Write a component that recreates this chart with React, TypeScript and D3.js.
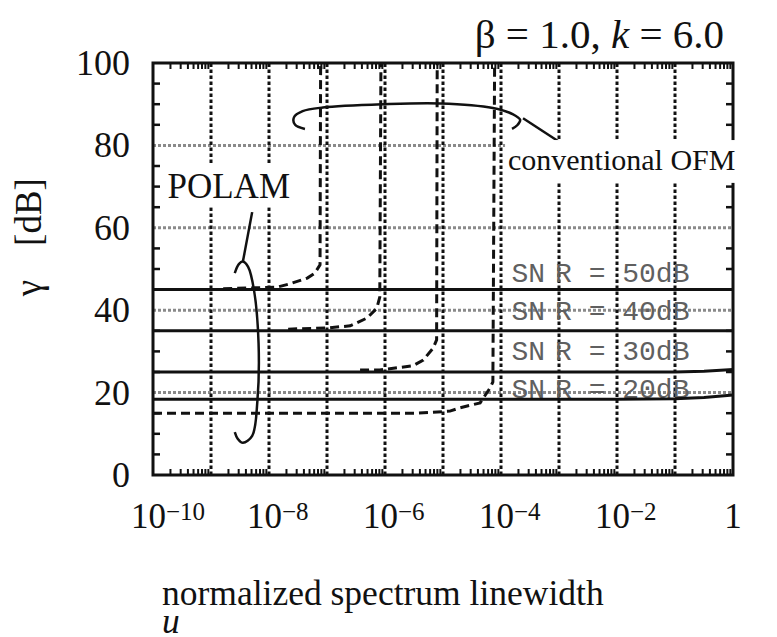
import React from 'react';
import * as d3 from 'd3';

const W = 777;
const H = 637;

// axis ticks
const xLabelExps = [-10, -8, -6, -4, -2];
const xGridExps = [-9, -8, -7, -6, -5, -4, -3, -2, -1];
const yTicks = [0, 20, 40, 60, 80, 100];
const yGrid = [20, 40, 60, 80];
const yMinor = [5, 10, 15, 25, 30, 35, 45, 50, 55, 65, 70, 75, 85, 90, 95];

// conventional OFM (solid), x as log10(u)
const ofmLogU = [-10, -2, -1, -0.5, 0];
const ofm50 = [45, 45, 45, 45, 45];
const ofm40 = [35, 35, 35, 35, 35];
const ofm30 = [25, 25, 25, 25.2, 25.6];
const ofm20 = [18.4, 18.4, 18.5, 18.8, 19.4];

// POLAM (dashed)
const polam50LogU = [-8.79, -7.86, -7.64, -7.34, -7.21, -7.12, -7.11];
const polam50 = [45.2, 45.6, 46.4, 47.8, 49.0, 51.0, 100];
const polam40LogU = [-7.67, -7.0, -6.6, -6.31, -6.14, -6.09, -6.07];
const polam40 = [35.4, 35.7, 36.2, 38.1, 40.5, 43.2, 100];
const polam30LogU = [-6.43, -6.09, -5.52, -5.34, -5.17, -5.11, -5.1];
const polam30 = [25.5, 25.5, 26.5, 27.9, 30.8, 32.8, 100];
const polam20LogU = [-10, -5.45, -4.88, -4.71, -4.36, -4.19, -4.14, -4.11];
const polam20 = [15.0, 15.0, 15.5, 16.3, 17.5, 21.1, 22.6, 100];

// SNR labels
const snrNames = ['50dB', '40dB', '30dB', '20dB'];
const snrLabelGamma = [46.8, 37.6, 27.9, 18.7];

// annotation brackets (log10 u, gamma)
const polamBracket: [number, number][] = [
  [-8.59, 49.0], [-8.52, 51.2], [-8.45, 51.8], [-8.36, 50.5], [-8.26, 45.0],
  [-8.18, 32.0], [-8.2, 18.0], [-8.29, 9.5], [-8.45, 7.8], [-8.54, 8.8], [-8.59, 10.4],
];
const polamLeader: [number, number][] = [[-8.45, 51.8], [-8.29, 63.8]];
const ofmBracket: [number, number][] = [
  [-7.38, 84.0], [-7.55, 85.0], [-7.57, 86.8], [-7.42, 88.3], [-7.07, 89.2],
  [-6.03, 90.0], [-5.05, 90.2], [-4.14, 89.1], [-3.8, 87.6], [-3.67, 86.2],
  [-3.72, 84.9], [-3.81, 84.0],
];
const ofmLeader: [number, number][] = [[-3.62, 86.6], [-2.86, 79.6]];

const SERIF = "'Liberation Serif', 'Times New Roman', serif";
const MONO = "'Liberation Mono', 'Courier New', monospace";

export default function App() {
  const x = d3.scaleLog().domain([1e-10, 1]).range([153, 733]);
  const y = d3.scaleLinear().domain([0, 100]).range([475, 63]);
  const lx = (l: number) => x(Math.pow(10, l));
  const line = d3.line<[number, number]>().x(d => lx(d[0])).y(d => y(d[1]));
  const smooth = d3
    .line<[number, number]>()
    .x(d => lx(d[0]))
    .y(d => y(d[1]))
    .curve(d3.curveCatmullRom.alpha(0.5));

  const zip = (a: number[], b: number[]) => a.map((v, i) => [v, b[i]] as [number, number]);
  const ofmSeries = [ofm50, ofm40, ofm30, ofm20].map(g => zip(ofmLogU, g));
  const polamSeries = [
    zip(polam50LogU, polam50),
    zip(polam40LogU, polam40),
    zip(polam30LogU, polam30),
    zip(polam20LogU, polam20),
  ];

  const [x0, x1] = x.range();
  const [y0, y1] = y.range();

  const minorX: number[] = [];
  for (let k = -10; k < 0; k++) for (let m = 2; m <= 9; m++) minorX.push(m * Math.pow(10, k));

  return (
    <svg width={W} height={H} style={{ position: 'absolute', left: 0, top: 0, background: '#fff' }}>
      <rect x={0} y={0} width={W} height={H} fill="#fff" />
      {/* grid */}
      {yGrid.map(v => (
        <line key={'hg' + v} x1={x0} x2={x1} y1={y(v)} y2={y(v)} stroke="#8a8a8a" strokeWidth={3} strokeDasharray="3,2" />
      ))}
      {xGridExps.map(e => (
        <line key={'vg' + e} x1={lx(e)} x2={lx(e)} y1={y0} y2={y1} stroke="#111" strokeWidth={3} strokeDasharray="3.5,2.5" />
      ))}

      {/* POLAM label box */}
      <rect x={lx(-9.97)} y={y(75.7)} width={lx(-7.6) - lx(-9.97)} height={y(65.0) - y(75.7)} fill="#fff" />

      {/* SNR labels */}
      {snrNames.map((n, i) => (
        <text key={n} x={lx(-3.82)} y={y(snrLabelGamma[i])} fontFamily={MONO} fontSize={28} fill="#606060">
          SN<tspan dx={10}>R = {n}</tspan>
        </text>
      ))}

      {/* conventional OFM solid lines */}
      {ofmSeries.map((s, i) => (
        <path key={'ofm' + i} d={line(s) || ''} fill="none" stroke="#111" strokeWidth={3} />
      ))}
      {/* POLAM dashed curves */}
      {polamSeries.map((s, i) => (
        <path key={'pol' + i} d={line(s) || ''} fill="none" stroke="#111" strokeWidth={3} strokeDasharray="9,5" />
      ))}

      {/* brackets */}
      <path d={smooth(polamBracket) || ''} fill="none" stroke="#111" strokeWidth={2.5} />
      <path d={line(polamLeader) || ''} fill="none" stroke="#111" strokeWidth={2.5} />
      <path d={smooth(ofmBracket) || ''} fill="none" stroke="#111" strokeWidth={2.5} />
      <path d={line(ofmLeader) || ''} fill="none" stroke="#111" strokeWidth={2.5} />

      {/* frame and ticks */}
      <rect x={x0} y={y1} width={x1 - x0} height={y0 - y1} fill="none" stroke="#111" strokeWidth={3} />
      {minorX.map((u, i) => (
        <g key={'mx' + i}>
          <line x1={x(u)} x2={x(u)} y1={y0} y2={y0 - 6} stroke="#111" strokeWidth={2} />
          <line x1={x(u)} x2={x(u)} y1={y1} y2={y1 + 6} stroke="#111" strokeWidth={2} />
        </g>
      ))}
      {yMinor.map(v => (
        <g key={'my' + v}>
          <line x1={x0} x2={x0 + 7} y1={y(v)} y2={y(v)} stroke="#111" strokeWidth={2.5} />
          <line x1={x1} x2={x1 - 7} y1={y(v)} y2={y(v)} stroke="#111" strokeWidth={2.5} />
        </g>
      ))}

      {/* conventional OFM label box + text (over frame) */}
      <rect x={lx(-3.93)} y={y(81.3)} width={W - lx(-3.93)} height={y(70.9) - y(81.3)} fill="#fff" />
      <text x={lx(-3.88)} y={y(74.0)} fontFamily={SERIF} fontSize={30} fill="#111">conventional OFM</text>
      <text x={lx(-9.75)} y={y(67.2)} fontFamily={SERIF} fontSize={35} fill="#111">POLAM</text>

      {/* y tick labels */}
      {yTicks.map(v => (
        <text key={'yl' + v} x={130} y={y(v) + 12} textAnchor="end" fontFamily={SERIF} fontSize={36} fill="#111">{v}</text>
      ))}
      {/* x tick labels */}
      {xLabelExps.map(e => (
        <text key={'xl' + e} x={lx(e) - 22} y={528} fontFamily={SERIF} fontSize={35} fill="#111">
          10<tspan fontSize={25} dy={-8}>{'\u2212' + Math.abs(e)}</tspan>
        </text>
      ))}
      <text x={lx(0)} y={528} textAnchor="middle" fontFamily={SERIF} fontSize={35} fill="#111">1</text>

      {/* axis titles */}
      <text x={162} y={605} fontFamily={SERIF} fontSize={35.5} fill="#111">normalized spectrum linewidth</text>
      <text x={162} y={633} fontFamily={SERIF} fontSize={35.5} fontStyle="italic" fill="#111">u</text>
      <text transform="translate(41,288) rotate(-90)" textAnchor="middle" fontFamily={SERIF} fontSize={37} fill="#111">γ</text>
      <text transform="translate(41,212) rotate(-90)" textAnchor="middle" fontFamily={SERIF} fontSize={37} fill="#111">[dB]</text>

      {/* title */}
      <text x={724} y={48} textAnchor="end" fontFamily={SERIF} fontSize={41} fill="#111">
        β = 1.0, <tspan fontStyle="italic">k</tspan> = 6.0
      </text>
    </svg>
  );
}
